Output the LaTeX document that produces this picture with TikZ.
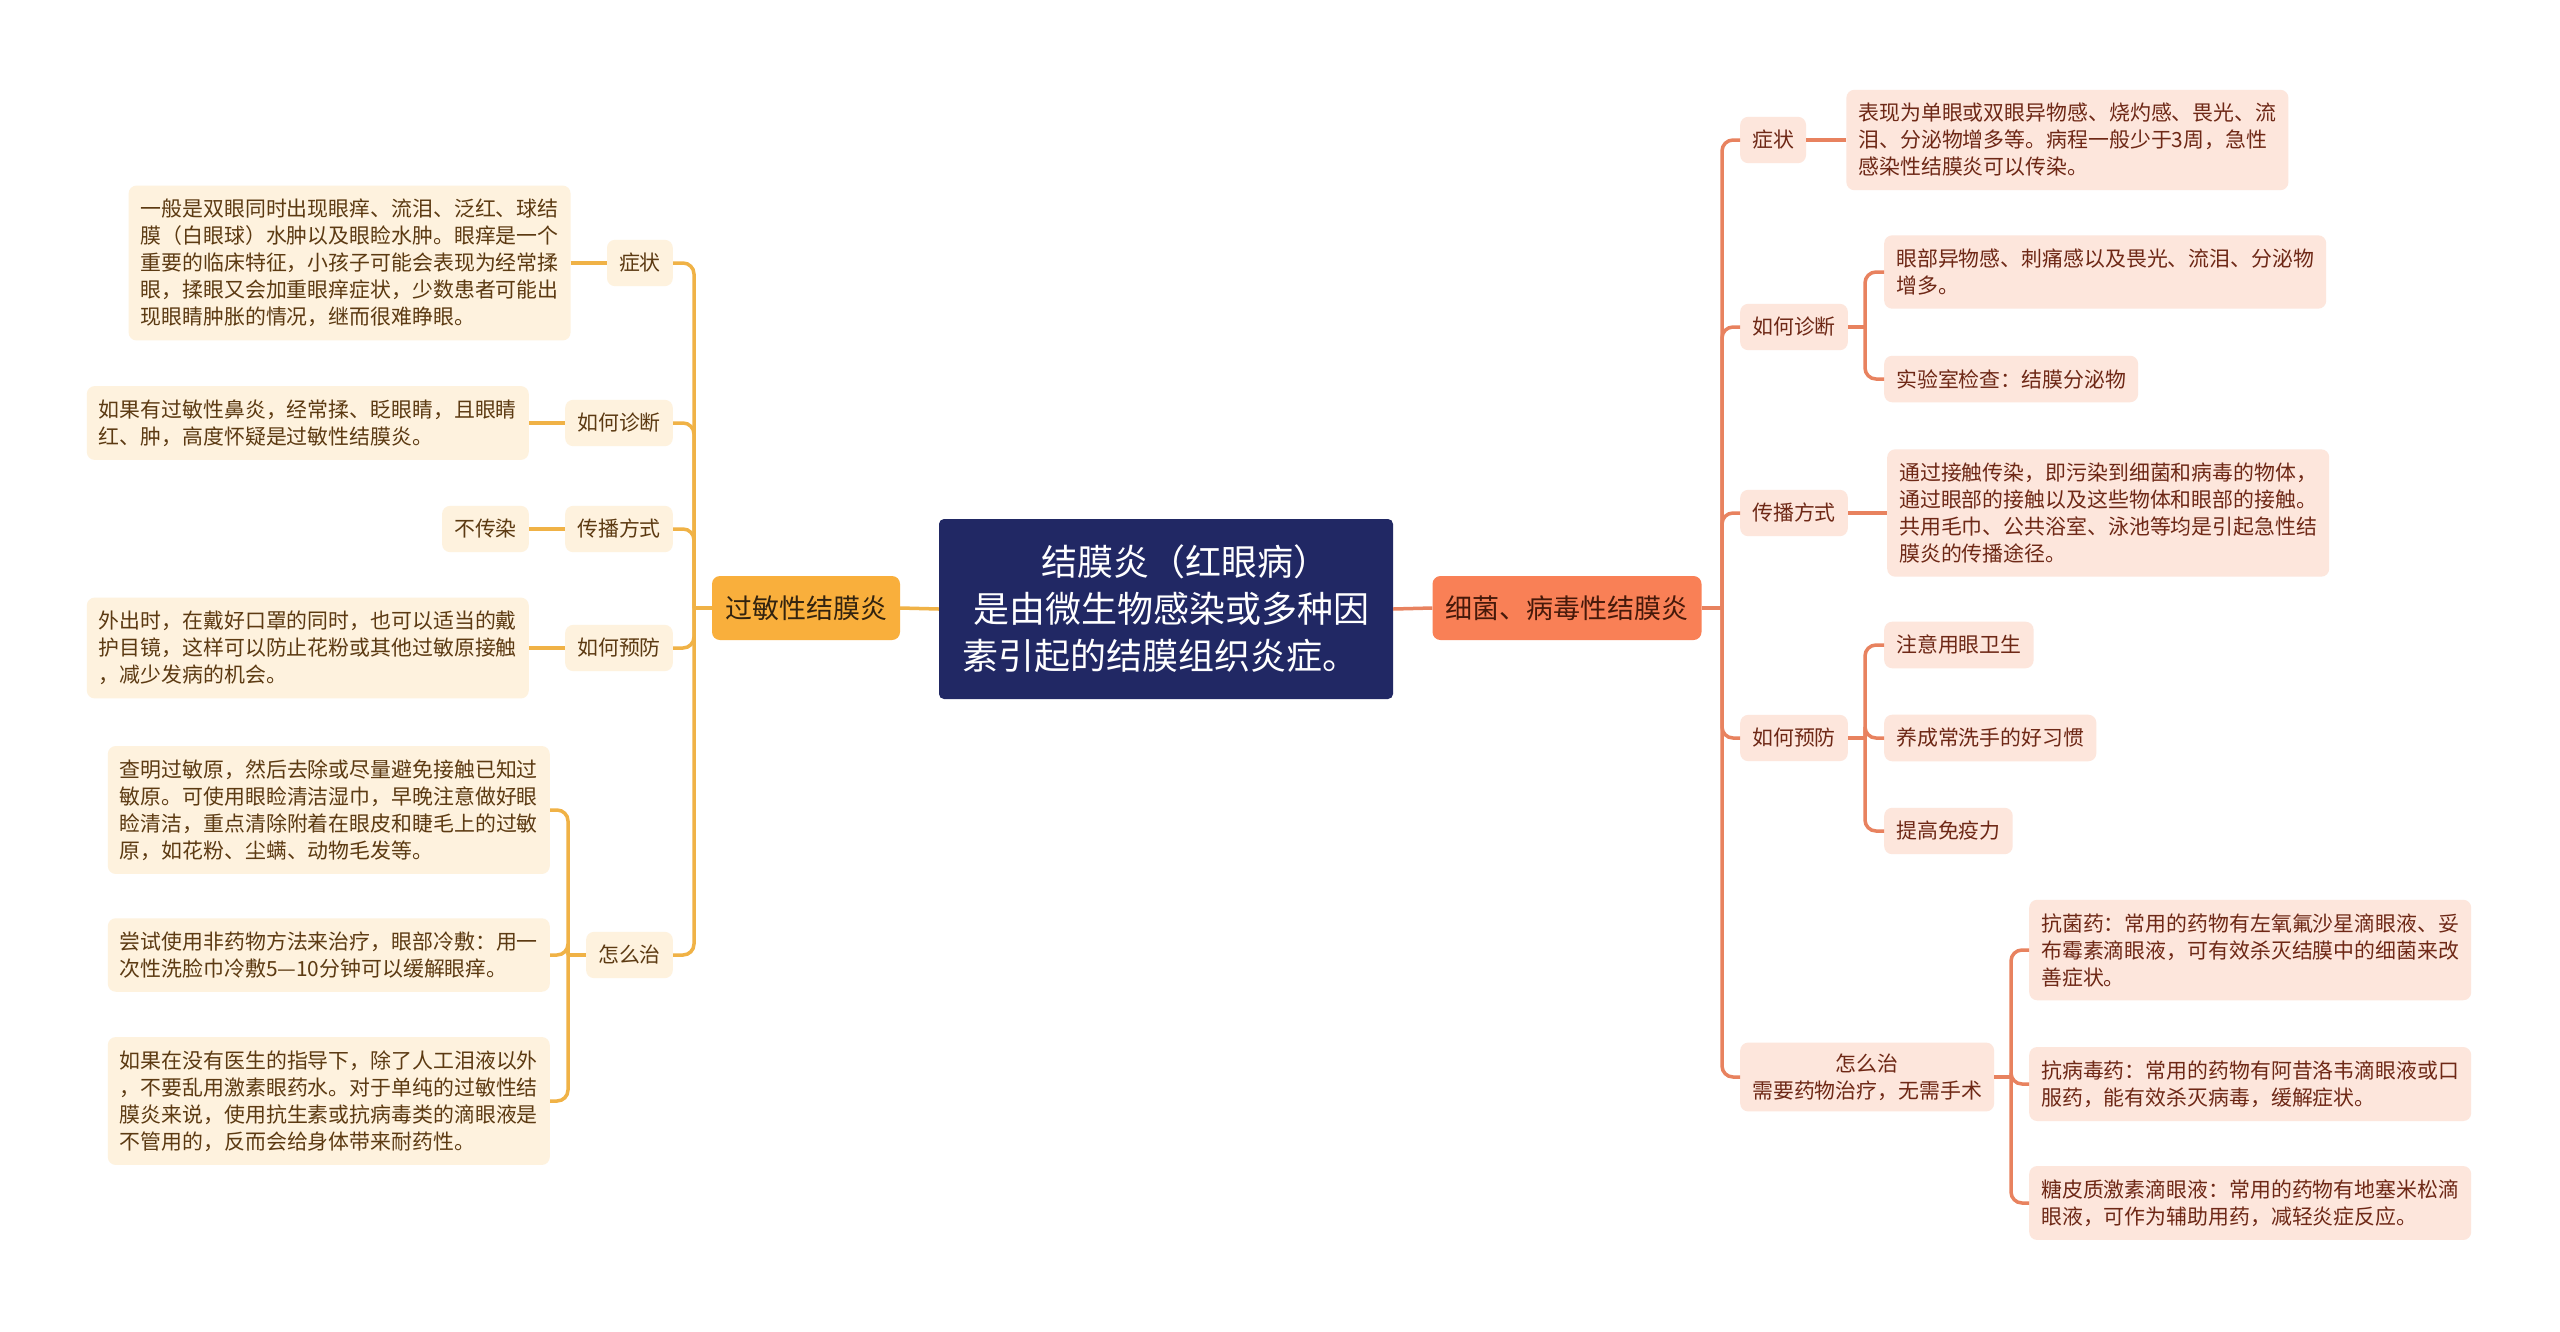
\documentclass[tikz,border=0pt]{standalone}
\usepackage{fontspec}
\setmainfont{Noto Sans CJK SC}
\usetikzlibrary{positioning}
\definecolor{rootnavy}{RGB}{33,40,100}
\definecolor{allergygold}{RGB}{249,175,60}
\definecolor{allergyline}{RGB}{240,178,70}
\definecolor{allergyfill}{RGB}{254,242,222}
\definecolor{allergytext}{RGB}{92,58,18}
\definecolor{infectcoral}{RGB}{249,128,86}
\definecolor{infectline}{RGB}{232,130,95}
\definecolor{infectfill}{RGB}{253,230,220}
\definecolor{infecttext}{RGB}{110,40,22}
\tikzset{
  lwire/.style={draw=allergyline,line width=3.5pt,rounded corners=11pt},
  rwire/.style={draw=infectline,line width=3.5pt,rounded corners=11pt},
  card/.style={rounded corners=8pt,inner xsep=12pt,inner ysep=13.5pt,align=left,
               font=\fontsize{20.9}{27}\selectfont},
  lcard/.style={card,fill=allergyfill,text=allergytext},
  rcard/.style={card,fill=infectfill,text=infecttext},
  branch/.style={rounded corners=8pt,minimum height=64pt,inner xsep=13pt,
                 font=\fontsize{27}{32}\selectfont},
  rootbox/.style={rounded corners=5pt,fill=rootnavy,text=white,minimum width=454pt,
                  minimum height=180pt,align=left,font=\fontsize{36}{47}\selectfont},
}
\begin{document}
\begin{tikzpicture}[x=1pt,y=-1pt]
  \path[use as bounding box,fill=white] (0,0) rectangle (2560,1331);

  % centre and the two branches
  \node[rootbox] (root) at (1166,609)
    {\hspace*{2.2em}结膜炎（红眼病）\\\hspace*{0.3em}是由微生物感染或多种因\\素引起的结膜组织炎症。};
  \node[branch,fill=allergygold,text={rgb,255:red,50;green,35;blue,15}] (lmain) at (806,608) {过敏性结膜炎};
  \node[branch,fill=infectcoral,text={rgb,255:red,70;green,25;blue,10}] (rmain) at (1567,608) {细菌、病毒性结膜炎};

  % allergic side
  \node[lcard,anchor=east] (ls1) at (673,263) {症状};
  \node[lcard,anchor=east] (ls2) at (673,423) {如何诊断};
  \node[lcard,anchor=east] (ls3) at (673,529) {传播方式};
  \node[lcard,anchor=east] (ls4) at (673,648) {如何预防};
  \node[lcard,anchor=east] (ls5) at (673,955) {怎么治};

  \node[lcard,left=36pt of ls1] (ll1)
    {一般是双眼同时出现眼痒、流泪、泛红、球结\\膜（白眼球）水肿以及眼睑水肿。眼痒是一个\\重要的临床特征，小孩子可能会表现为经常揉\\眼，揉眼又会加重眼痒症状，少数患者可能出\\现眼睛肿胀的情况，继而很难睁眼。};
  \node[lcard,left=36pt of ls2] (ll2)
    {如果有过敏性鼻炎，经常揉、眨眼睛，且眼睛\\红、肿，高度怀疑是过敏性结膜炎。};
  \node[lcard,left=36pt of ls3] (ll3) {不传染};
  \node[lcard,left=36pt of ls4] (ll4)
    {外出时，在戴好口罩的同时，也可以适当的戴\\护目镜，这样可以防止花粉或其他过敏原接触\\，减少发病的机会。};

  \node[lcard,anchor=east] (lz1) at (550,810)
    {查明过敏原，然后去除或尽量避免接触已知过\\敏原。可使用眼睑清洁湿巾，早晚注意做好眼\\睑清洁，重点清除附着在眼皮和睫毛上的过敏\\原，如花粉、尘螨、动物毛发等。};
  \node[lcard,anchor=east] (lz2) at (550,955)
    {尝试使用非药物方法来治疗，眼部冷敷：用一\\次性洗脸巾冷敷5—10分钟可以缓解眼痒。};
  \node[lcard,anchor=east] (lz3) at (550,1101)
    {如果在没有医生的指导下，除了人工泪液以外\\，不要乱用激素眼药水。对于单纯的过敏性结\\膜炎来说，使用抗生素或抗病毒类的滴眼液是\\不管用的，反而会给身体带来耐药性。};

  \coordinate (lbus) at (694,608);
  \coordinate (lzbus) at (568,955);
  \draw[lwire] (lmain.east) -- (root.west);
  \draw[lwire] (lbus) -- (lmain.west);
  \foreach \n in {ls1,ls2,ls3,ls4,ls5}
    \draw[lwire] (\n.east) -| (lbus);
  \foreach \n in {1,2,3,4}
    \draw[lwire] (ll\n.east) -- (ls\n.west);
  \draw[lwire] (ls5.west) -- (lzbus);
  \foreach \n in {lz1,lz2,lz3}
    \draw[lwire] (\n.east) -| (lzbus);

  % infectious side
  \node[rcard,anchor=west] (rs1) at (1740,140) {症状};
  \node[rcard,anchor=west] (rs2) at (1740,327) {如何诊断};
  \node[rcard,anchor=west] (rs3) at (1740,513) {传播方式};
  \node[rcard,anchor=west] (rs4) at (1740,738) {如何预防};
  \node[rcard,anchor=west,align=center,minimum width=253pt,inner ysep=11pt] (rs5) at (1740,1077)
    {怎么治\\需要药物治疗，无需手术};

  \node[rcard,right=40pt of rs1] (rl1)
    {表现为单眼或双眼异物感、烧灼感、畏光、流\\泪、分泌物增多等。病程一般少于3周，急性\\感染性结膜炎可以传染。};
  \node[rcard,anchor=west] (rd1) at (1884,272)
    {眼部异物感、刺痛感以及畏光、流泪、分泌物\\增多。};
  \node[rcard,anchor=west] (rd2) at (1884,379) {实验室检查：结膜分泌物};
  \node[rcard,right=39pt of rs3] (rl3)
    {通过接触传染，即污染到细菌和病毒的物体，\\通过眼部的接触以及这些物体和眼部的接触。\\共用毛巾、公共浴室、泳池等均是引起急性结\\膜炎的传播途径。};
  \node[rcard,anchor=west] (rp1) at (1884,645) {注意用眼卫生};
  \node[rcard,anchor=west] (rp2) at (1884,738) {养成常洗手的好习惯};
  \node[rcard,anchor=west] (rp3) at (1884,831) {提高免疫力};
  \node[rcard,anchor=west] (rz1) at (2029,950)
    {抗菌药：常用的药物有左氧氟沙星滴眼液、妥\\布霉素滴眼液，可有效杀灭结膜中的细菌来改\\善症状。};
  \node[rcard,anchor=west] (rz2) at (2029,1084)
    {抗病毒药：常用的药物有阿昔洛韦滴眼液或口\\服药，能有效杀灭病毒，缓解症状。};
  \node[rcard,anchor=west] (rz3) at (2029,1203)
    {糖皮质激素滴眼液：常用的药物有地塞米松滴\\眼液，可作为辅助用药，减轻炎症反应。};

  \coordinate (rbus) at (1722,608);
  \coordinate (rdbus) at (1865,327);
  \coordinate (rpbus) at (1865,738);
  \coordinate (rzbus) at (2011,1077);
  \draw[rwire] (root.east) -- (rmain.west);
  \draw[rwire] (rmain.east) -- (rbus);
  \foreach \n in {rs1,rs2,rs3,rs4,rs5}
    \draw[rwire] (\n.west) -| (rbus);
  \draw[rwire] (rs1.east) -- (rl1.west);
  \draw[rwire] (rs3.east) -- (rl3.west);
  \draw[rwire] (rs2.east) -- (rdbus);
  \foreach \n in {rd1,rd2}
    \draw[rwire] (\n.west) -| (rdbus);
  \draw[rwire] (rs4.east) -- (rpbus);
  \foreach \n in {rp1,rp2,rp3}
    \draw[rwire] (\n.west) -| (rpbus);
  \draw[rwire] (rs5.east) -- (rzbus);
  \foreach \n in {rz1,rz2,rz3}
    \draw[rwire] (\n.west) -| (rzbus);
\end{tikzpicture}
\end{document}
